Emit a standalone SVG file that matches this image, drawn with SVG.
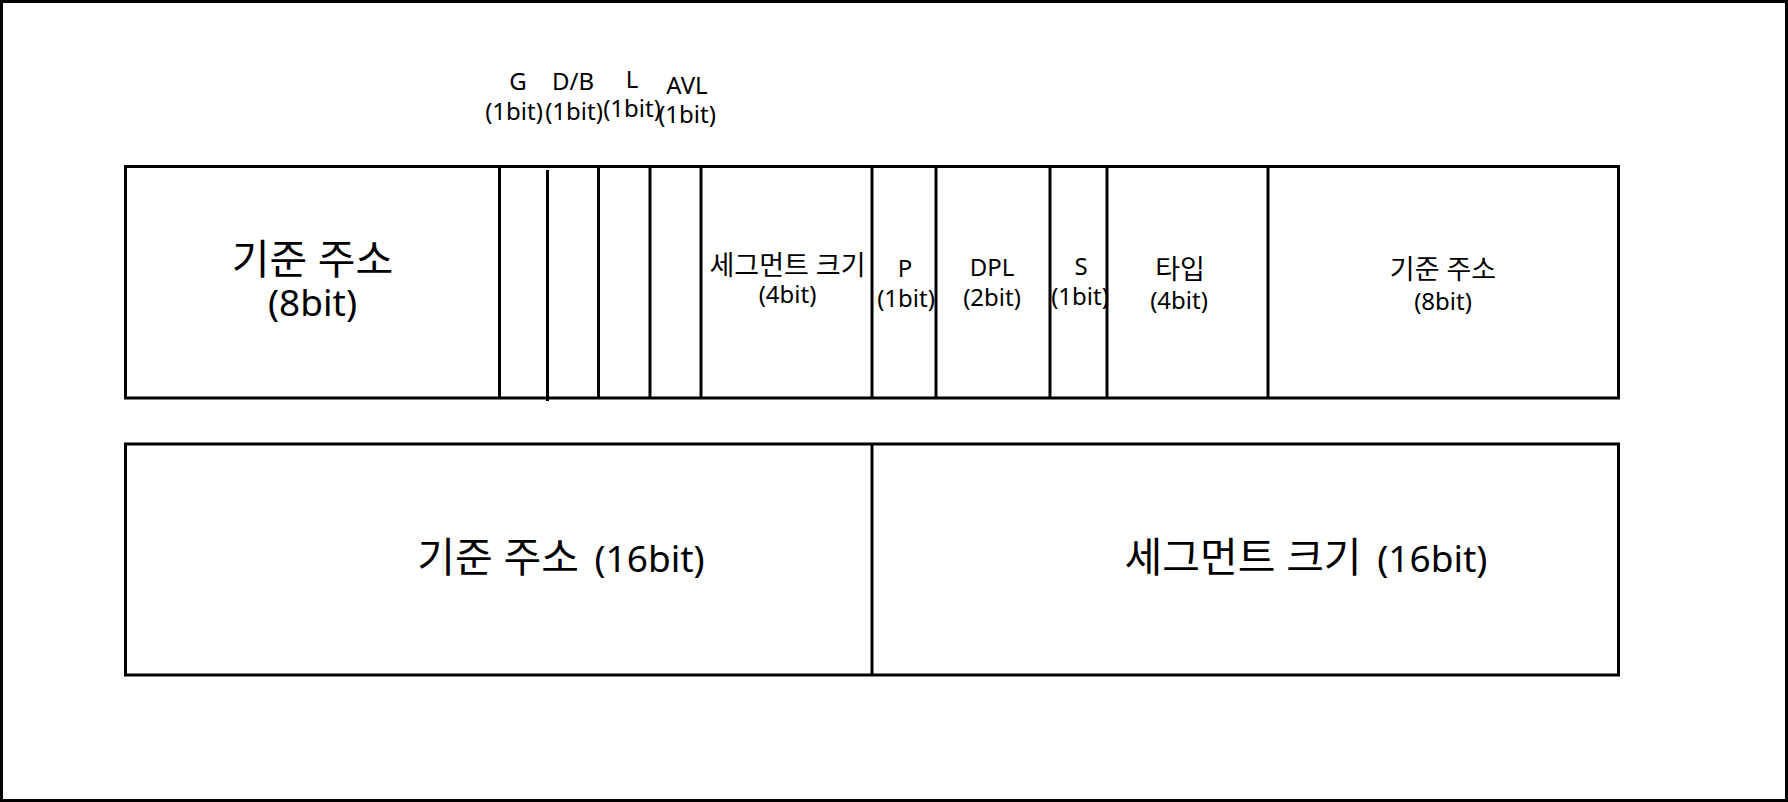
<svg xmlns="http://www.w3.org/2000/svg" width="1788" height="802" viewBox="0 0 1788 802">
<style>
.frame{fill:#fff;stroke:#000;stroke-width:3}
.box{fill:#fff;stroke:#000;stroke-width:3}
.div{stroke:#000;stroke-width:3;fill:none}
text{font-family:"Noto Sans","Noto Sans CJK KR",sans-serif;fill:#000;text-anchor:middle}
.s{font-size:24px}
.sk{font-size:27px}
.b{font-size:37px}
.bk{font-size:41px}
</style>
<rect class="frame" x="1.5" y="1.5" width="1785" height="799"/>
<g id="row1">
<rect class="box" x="125.5" y="166.5" width="1493" height="231.5"/>
</g>
<g id="row2">
<rect class="box" x="125.5" y="444" width="1493" height="231"/>
</g>
<g id="base-addr-hi">
<text class="bk" x="312.5" y="274">기준 주소</text>
<text class="b" x="312.5" y="316">(8bit)</text>
<line class="div" x1="499.5" y1="166.5" x2="499.5" y2="398"/>
</g>
<g id="g-bit">
<text class="s" x="518" y="90">G</text>
<text class="s" x="514" y="120">(1bit)</text>
<line class="div" x1="547.5" y1="170" x2="547.5" y2="401"/>
</g>
<g id="db-bit">
<text class="s" x="573" y="90">D/B</text>
<text class="s" x="574" y="120">(1bit)</text>
<line class="div" x1="598.5" y1="166.5" x2="598.5" y2="398"/>
</g>
<g id="l-bit">
<text class="s" x="632" y="88">L</text>
<text class="s" x="632" y="117">(1bit)</text>
<line class="div" x1="650" y1="165" x2="650" y2="398"/>
</g>
<g id="avl-bit">
<text class="s" x="687" y="94">AVL</text>
<text class="s" x="687" y="123">(1bit)</text>
<line class="div" x1="701" y1="165" x2="701" y2="398"/>
</g>
<g id="seg-limit-hi">
<text class="sk" x="787.5" y="275">세그먼트 크기</text>
<text class="s" x="787.5" y="303">(4bit)</text>
<line class="div" x1="872" y1="166.5" x2="872" y2="398"/>
</g>
<g id="p-bit">
<text class="s" x="905" y="277">P</text>
<text class="s" x="906" y="307">(1bit)</text>
<line class="div" x1="936" y1="166.5" x2="936" y2="398"/>
</g>
<g id="dpl">
<text class="s" x="992" y="276">DPL</text>
<text class="s" x="992" y="306">(2bit)</text>
<line class="div" x1="1050" y1="166.5" x2="1050" y2="398"/>
</g>
<g id="s-bit">
<text class="s" x="1081" y="275">S</text>
<text class="s" x="1080" y="305">(1bit)</text>
<line class="div" x1="1107" y1="166.5" x2="1107" y2="398"/>
</g>
<g id="type">
<text class="sk" x="1180" y="279">타입</text>
<text class="s" x="1179" y="309">(4bit)</text>
<line class="div" x1="1268" y1="166.5" x2="1268" y2="398"/>
</g>
<g id="base-addr-mid">
<text class="sk" x="1443" y="279">기준 주소</text>
<text class="s" x="1443" y="310">(8bit)</text>
</g>
<g id="base-addr-lo">
<text class="b" x="561" y="572"><tspan class="bk">기준 주소</tspan><tspan dx="6"> (16bit)</tspan></text>
<line class="div" x1="872" y1="444" x2="872" y2="675"/>
</g>
<g id="seg-limit-lo">
<text class="b" x="1306" y="572"><tspan class="bk">세그먼트 크기</tspan><tspan dx="6"> (16bit)</tspan></text>
</g>
<g id="connectors"/>
</svg>
